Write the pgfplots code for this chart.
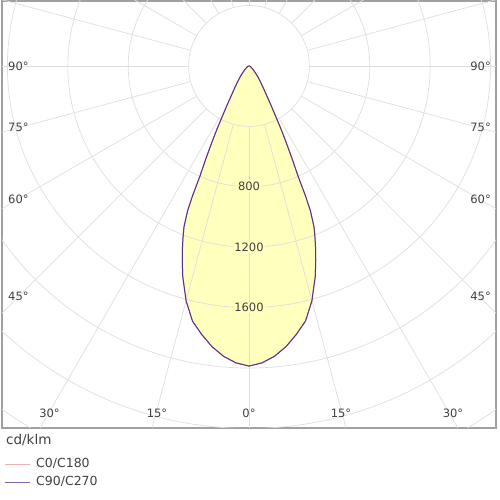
\documentclass[border=0pt]{standalone}
\usepackage{fontspec}
\setmainfont{DejaVu Sans}
\usepackage{pgfplots}
\usepackage{pgfplotstable}
\pgfplotsset{compat=1.18}

\definecolor{lumfill}{RGB}{255,255,190}
\definecolor{gridc}{RGB}{222,222,222}
\definecolor{cnull}{RGB}{232,150,150}
\definecolor{cninety}{RGB}{85,50,140}
\definecolor{labc}{RGB}{64,64,64}
\definecolor{framec}{RGB}{160,160,160}

% luminous intensity curve, polar angle (deg, 0 = right, -90 = nadir) and cd/klm
\pgfplotstableread{
ang    I
-180   0
-170   4
-160   8
-150   15
-140   30
-135   50
-130   85
-127.5 110
-125   140
-122.5 185
-120   260
-119   310
-118   370
-117   460
-116   555
-115   670
-114   800
-113.5 940
-113   1040
-112   1150
-111   1220
-110   1290
-109   1358
-107.5 1460
-105   1610
-102.5 1730
-100   1805
-97.5  1875
-95    1930
-92.5  1968
-90    1987
-87.5  1968
-85    1930
-82.5  1875
-80    1805
-77.5  1730
-75    1610
-72.5  1460
-71    1358
-70    1290
-69    1220
-68    1150
-67    1040
-66.5  940
-66    800
-65    670
-64    555
-63    460
-62    370
-61    310
-60    260
-57.5  185
-55    140
-52.5  110
-50    85
-45    50
-40    30
-30    15
-20    8
-10    4
0      0
}\ldc

\begin{document}
\begin{tikzpicture}
\useasboundingbox (0,0) rectangle (500bp,500bp);
\begin{axis}[
  at={(2bp,72bp)}, anchor=south west,
  scale only axis, width=494bp, height=427bp,
  xmin=-1636, xmax=1636, ymin=-2397, ymax=430,
  xtick=\empty, ytick=\empty,
  axis line style={draw=framec, line width=1.5bp},
  legend style={at={(rel axis cs:0,0)}, anchor=north west, xshift=2bp, yshift=-27bp,
    draw=none, fill=none, inner sep=0pt, row sep=0bp,
    font=\fontsize{12.5bp}{15bp}\selectfont,
    nodes={text height=9bp, text depth=3bp, inner sep=3bp, text=labc}},
  legend cell align=left,
  legend image code/.code={\draw[#1, opacity=0.75] (0bp,0bp) -- (25bp,0bp); \path (0bp,-7bp) (28bp,0bp);},
]
\addplot[draw=none, fill=lumfill, data cs=polar, forget plot] table[x=ang, y=I]{\ldc};
\pgfplotsinvokeforeach{400,800,...,2800}{
  \draw[gridc, line width=0.7bp] (axis cs:0,0) circle[radius=#1];
}
\pgfplotsinvokeforeach{0,15,...,345}{
  \draw[gridc, line width=0.7bp] (axis cs:{400*cos(#1)},{400*sin(#1)}) -- (axis cs:{3400*cos(#1)},{3400*sin(#1)});
}
\node[fill=lumfill, inner sep=1bp, text=labc, font=\fontsize{11.5bp}{13bp}\selectfont] at (axis cs:0,-800) {800};
\node[fill=lumfill, inner sep=1bp, text=labc, font=\fontsize{11.5bp}{13bp}\selectfont] at (axis cs:0,-1200) {1200};
\node[fill=lumfill, inner sep=1bp, text=labc, font=\fontsize{11.5bp}{13bp}\selectfont] at (axis cs:0,-1600) {1600};
\addplot[cnull, line width=1bp, data cs=polar] table[x=ang, y=I]{\ldc};
\addlegendentry{C0/C180}
\addplot[cninety, line width=1bp, data cs=polar] table[x=ang, y=I]{\ldc};
\addlegendentry{C90/C270}
\end{axis}
\begin{scope}[every node/.style={text=labc, inner sep=0pt, font=\fontsize{11.5bp}{13bp}\selectfont}]
\node[anchor=base west] at (8bp,429bp) {90°};
\node[anchor=base west] at (8bp,368bp) {75°};
\node[anchor=base west] at (8bp,296.5bp) {60°};
\node[anchor=base west] at (8bp,199.3bp) {45°};
\node[anchor=base east] at (491bp,429bp) {90°};
\node[anchor=base east] at (491bp,368bp) {75°};
\node[anchor=base east] at (491bp,296.5bp) {60°};
\node[anchor=base east] at (491bp,199.3bp) {45°};
\node[anchor=base] at (49.5bp,82.7bp) {30°};
\node[anchor=base] at (157bp,82.7bp) {15°};
\node[anchor=base] at (249bp,82.7bp) {0°};
\node[anchor=base] at (341bp,82.7bp) {15°};
\node[anchor=base] at (453bp,82.7bp) {30°};
\end{scope}
\node[anchor=base west, inner sep=0pt, text=labc, font=\fontsize{13.5bp}{16bp}\selectfont] at (6bp,55.3bp) {cd/klm};
\end{tikzpicture}
\end{document}
